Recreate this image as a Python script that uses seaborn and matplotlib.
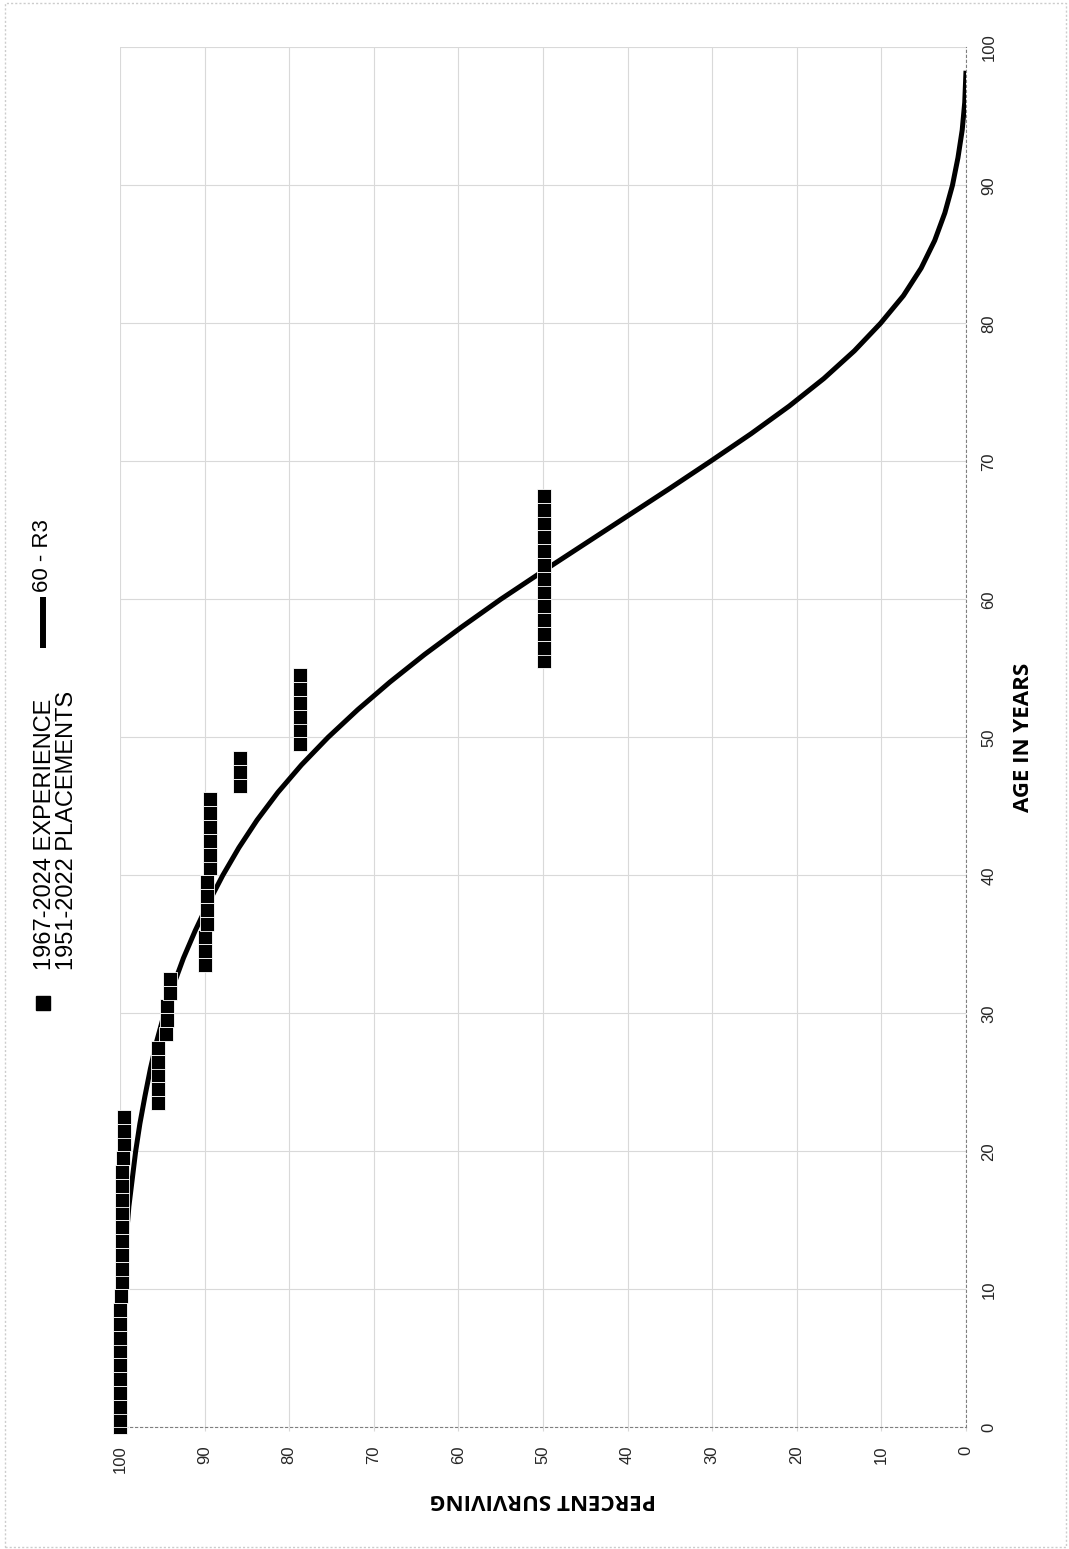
import numpy as np
import pandas as pd
import matplotlib.pyplot as plt
import seaborn as sns
from matplotlib.lines import Line2D
from matplotlib.patches import Rectangle

# observed life table (age in years, percent surviving)
exp_age = [0.0, 0.5, 1.5, 2.5, 3.5, 4.5, 5.5, 6.5, 7.5, 8.5, 9.5,
           10.5, 11.5, 12.5, 13.5, 14.5, 15.5, 16.5, 17.5, 18.5, 19.5,
           20.5, 21.5, 22.5, 23.5, 24.5, 25.5, 26.5, 27.5, 28.5, 29.5,
           30.5, 31.5, 32.5, 33.5, 34.5, 35.5, 36.5, 37.5, 38.5, 39.5,
           40.5, 41.5, 42.5, 43.5, 44.5, 45.5, 46.5, 47.5, 48.5, 49.5,
           50.5, 51.5, 52.5, 53.5, 54.5, 55.5, 56.5, 57.5, 58.5, 59.5,
           60.5, 61.5, 62.5, 63.5, 64.5, 65.5, 66.5, 67.5]
exp_pct = [100.0, 100.0, 100.0, 100.0, 100.0, 100.0, 100.0, 100.0, 100.0, 100.0, 99.85,
           99.74, 99.74, 99.74, 99.74, 99.74, 99.74, 99.74, 99.74, 99.74, 99.69,
           99.56, 99.56, 99.56, 95.56, 95.56, 95.56, 95.56, 95.47, 94.6, 94.42,
           94.42, 94.06, 94.06, 89.95, 89.95, 89.9, 89.75, 89.75, 89.75, 89.72,
           89.36, 89.36, 89.36, 89.36, 89.36, 89.36, 85.82, 85.82, 85.82, 78.72,
           78.72, 78.72, 78.72, 78.72, 78.72, 49.9, 49.9, 49.9, 49.9, 49.9,
           49.9, 49.9, 49.9, 49.9, 49.9, 49.9, 49.9, 49.9]

# 60 - R3 curve
curve_age = [0, 4, 8, 12, 16, 20, 22, 24, 26, 28, 30, 32, 34, 36, 38, 40, 42, 44,
             46, 48, 50, 52, 54, 56, 58, 60, 62, 64, 66, 68, 70, 72, 74, 76, 78,
             80, 82, 84, 86, 88, 90, 92, 94, 96, 98.3]
curve_pct = [100.0, 99.98, 99.85, 99.5, 98.95, 98.15, 97.65, 97.05, 96.4, 95.65,
             94.75, 93.7, 92.5, 91.1, 89.55, 87.85, 85.95, 83.8, 81.35, 78.55,
             75.4, 71.9, 68.1, 64.0, 59.6, 55.0, 50.1, 45.1, 40.1, 35.1,
             30.2, 25.4, 20.9, 16.8, 13.2, 10.1, 7.4, 5.3, 3.7, 2.5,
             1.6, 0.95, 0.45, 0.15, 0.0]

pct_ticks = [0, 10, 20, 30, 40, 50, 60, 70, 80, 90, 100]
age_ticks = [0, 10, 20, 30, 40, 50, 60, 70, 80, 90, 100]

exp = pd.DataFrame({"age": exp_age, "pct": exp_pct})
curve = pd.DataFrame({"age": curve_age, "pct": curve_pct})

sns.set_theme(style="whitegrid")
plt.rcParams['font.family'] = ['Liberation Sans', 'DejaVu Sans']

W, H = 1069, 1549
fig = plt.figure(figsize=(W / 100, H / 100), dpi=100)
fig.patch.set_facecolor('white')

# axes box in pixels: left 120, right 966, top 47, bottom 1427 (chart is turned on its side)
ax = fig.add_axes([120 / W, 1 - 1427.3 / H, (966 - 120) / W, (1427.3 - 47.3) / H])

sns.lineplot(data=curve, x="pct", y="age", sort=False, estimator=None,
             color='black', linewidth=3.6, ax=ax, zorder=3,
             solid_joinstyle='round', solid_capstyle='butt')
sns.scatterplot(data=exp, x="pct", y="age", marker='s', s=88, color='black',
                edgecolor='white', linewidth=0.6, ax=ax, zorder=4, clip_on=False)

ax.set_xlim(100, 0)
ax.set_ylim(0, 100)
ax.set_xticks(pct_ticks)
ax.set_yticks(age_ticks)
ax.yaxis.tick_right()

ax.grid(True, color='#d9d9d9', linewidth=0.8)
for s in ['top', 'left']:
    ax.spines[s].set_visible(False)
for s in ['bottom', 'right']:
    ax.spines[s].set_visible(True)
    ax.spines[s].set_color('#808080')
    ax.spines[s].set_linewidth(0.8)
    ax.spines[s].set_linestyle((0, (2, 2.5)))

ax.tick_params(axis='x', bottom=True, length=3, width=0.8, color='#d9d9d9',
               pad=10, labelsize=12, labelcolor='#262626', labelrotation=90)
ax.tick_params(axis='y', right=True, left=False, length=0, pad=11,
               labelsize=12, labelcolor='#262626', labelrotation=90)
for lab in ax.get_yticklabels():
    lab.set_va('center')

ax.set_xlabel('PERCENT SURVIVING', family='Open Sans', fontweight='bold',
              fontsize=16, rotation=180, color='black')
ax.xaxis.set_label_coords(0.5, -(1499.5 - 1427.3) / 1380)
ax.xaxis.label.set_va('center')
ax.xaxis.label.set_ha('center')

ax.yaxis.set_label_position('right')
ax.set_ylabel('AGE IN YEARS', family='Open Sans', fontweight='bold',
              fontsize=16, rotation=90, color='black')
ax.yaxis.set_label_coords((1024 - 120) / 846, 0.5)
ax.yaxis.label.set_va('center')
ax.yaxis.label.set_ha('center')

# legend, drawn by hand on the left side
fig.add_artist(Line2D([43 / W], [1 - 1003 / H], marker='s', markersize=9.4,
                      color='black', linestyle='none', transform=fig.transFigure))
fig.text(56 / W, 1 - 970 / H, '1967-2024 EXPERIENCE\n1951-2022 PLACEMENTS',
         rotation=90, ha='center', va='bottom', fontsize=17, linespacing=1.0,
         multialignment='left', color='black')
fig.add_artist(Line2D([42.7 / W, 42.7 / W], [1 - 648 / H, 1 - 597 / H],
                      color='black', linewidth=4.3, solid_capstyle='butt',
                      transform=fig.transFigure))
fig.text(43 / W, 1 - 592 / H, '60 - R3', rotation=90, ha='center', va='bottom',
         fontsize=16, color='black')

# outer dotted frame
fig.add_artist(Rectangle((5 / W, 1 - 1547 / H), (1066 - 5) / W, (1547 - 3) / H,
                         transform=fig.transFigure, fill=False, edgecolor='#cccccc',
                         linewidth=1.0, linestyle=(0, (1.5, 1.5))))

fig.savefig('out.png', dpi=100, facecolor='white')
